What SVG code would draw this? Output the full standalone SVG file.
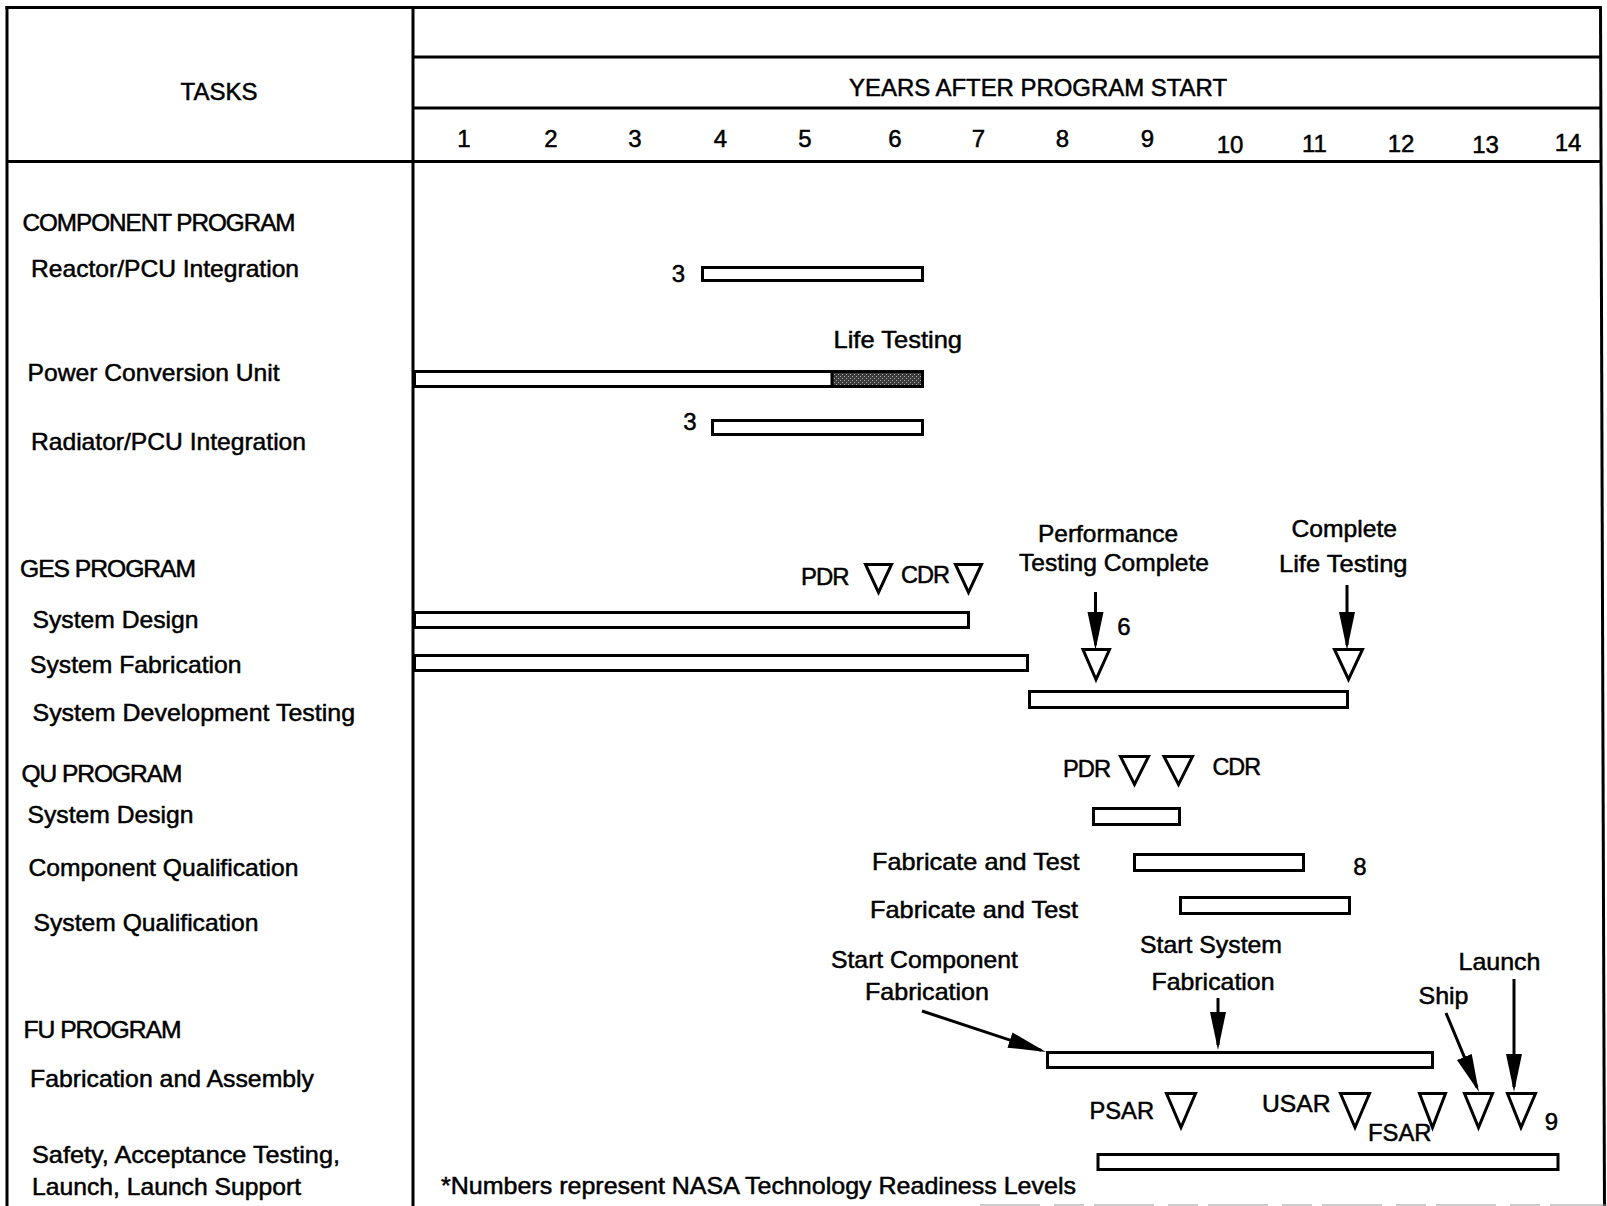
<svg xmlns="http://www.w3.org/2000/svg" width="1607" height="1206" viewBox="0 0 1607 1206">
<style>
text{font-family:"Liberation Sans",Arial,Helvetica,sans-serif;font-size:24px;fill:#000;stroke:#000;stroke-width:0.5}
.hd{letter-spacing:-1px}
.ln{stroke:#000;stroke-width:3;fill:none}
.bar{fill:#fff;stroke:#000;stroke-width:3}
.tri{fill:#fff;stroke:#000;stroke-width:3;stroke-linejoin:miter}
.arr{stroke:#000;stroke-width:3;fill:none;marker-end:url(#ah)}
.mid{text-anchor:middle}
</style>
<defs>
<marker id="ah" markerUnits="userSpaceOnUse" markerWidth="38" markerHeight="18" refX="33" refY="9" orient="auto">
<path d="M0,1 L38,9 L0,17 z" fill="#000"/>
</marker>
<pattern id="hatch" width="4" height="4" patternUnits="userSpaceOnUse">
<rect width="4" height="4" fill="#3c3c3c"/>
<rect x="0" y="0" width="1" height="1" fill="#b0b0b0"/>
<rect x="2" y="2" width="1" height="1" fill="#b0b0b0"/>
</pattern>
</defs>

<g id="frame">
<line class="ln" x1="5.5" y1="7.5" x2="1601" y2="7.5"/>
<line class="ln" x1="7" y1="6" x2="7" y2="1206"/>
<line class="ln" x1="1600.5" y1="6" x2="1604.5" y2="1206"/>
<line class="ln" x1="413" y1="6" x2="413" y2="1206"/>
<line class="ln" x1="413" y1="57" x2="1601" y2="57"/>
<line class="ln" x1="413" y1="108" x2="1602" y2="108"/>
<line class="ln" x1="6" y1="161.5" x2="1602" y2="161.5"/>
<line x1="980" y1="1205" x2="1607" y2="1205" stroke="#999" stroke-width="1" stroke-dasharray="60 14 30 10"/>
</g>

<g id="header">
<text x="219" y="100" class="mid">TASKS</text>
<text x="849" y="96" textLength="378" lengthAdjust="spacingAndGlyphs">YEARS AFTER PROGRAM START</text>
<text x="464" y="146.5" class="mid">1</text>
<text x="551" y="146.5" class="mid">2</text>
<text x="635" y="146.5" class="mid">3</text>
<text x="720.5" y="146.5" class="mid">4</text>
<text x="805" y="146.5" class="mid">5</text>
<text x="895" y="146.5" class="mid">6</text>
<text x="978.5" y="146.5" class="mid">7</text>
<text x="1062.5" y="146.5" class="mid">8</text>
<text x="1147.5" y="146.5" class="mid">9</text>
<text x="1230" y="153" class="mid">10</text>
<text x="1314.5" y="152" class="mid">11</text>
<text x="1401" y="152" class="mid">12</text>
<text x="1485.5" y="153" class="mid">13</text>
<text x="1568" y="151" class="mid">14</text>
</g>

<g id="task-labels">
<text x="22.5" y="231" class="hd" textLength="272" lengthAdjust="spacingAndGlyphs">COMPONENT PROGRAM</text>
<text x="31" y="277" textLength="268" lengthAdjust="spacingAndGlyphs">Reactor/PCU Integration</text>
<text x="27.5" y="380.5" textLength="252" lengthAdjust="spacingAndGlyphs">Power Conversion Unit</text>
<text x="31" y="450" textLength="275" lengthAdjust="spacingAndGlyphs">Radiator/PCU Integration</text>
<text x="20" y="577" class="hd" textLength="175" lengthAdjust="spacingAndGlyphs">GES PROGRAM</text>
<text x="32.5" y="628" textLength="166" lengthAdjust="spacingAndGlyphs">System Design</text>
<text x="30" y="673" textLength="211.5" lengthAdjust="spacingAndGlyphs">System Fabrication</text>
<text x="32.5" y="721" textLength="322.5" lengthAdjust="spacingAndGlyphs">System Development Testing</text>
<text x="21.5" y="782" class="hd" textLength="160" lengthAdjust="spacingAndGlyphs">QU PROGRAM</text>
<text x="27.5" y="823" textLength="166" lengthAdjust="spacingAndGlyphs">System Design</text>
<text x="28.5" y="876" textLength="270" lengthAdjust="spacingAndGlyphs">Component Qualification</text>
<text x="33.5" y="931" textLength="225" lengthAdjust="spacingAndGlyphs">System Qualification</text>
<text x="23.5" y="1038" class="hd" textLength="157" lengthAdjust="spacingAndGlyphs">FU PROGRAM</text>
<text x="30" y="1086.5" textLength="284" lengthAdjust="spacingAndGlyphs">Fabrication and Assembly</text>
<text x="32" y="1163" textLength="308" lengthAdjust="spacingAndGlyphs">Safety, Acceptance Testing,</text>
<text x="32" y="1195" textLength="269" lengthAdjust="spacingAndGlyphs">Launch, Launch Support</text>
</g>

<g id="component-program">
<text x="678.5" y="281.5" class="mid">3</text>
<rect class="bar" x="702.5" y="267.5" width="220" height="13"/>
<text x="833.5" y="348" textLength="128.5" lengthAdjust="spacingAndGlyphs">Life Testing</text>
<rect class="bar" x="414.5" y="371.5" width="508" height="15"/>
<rect x="832" y="371.5" width="90.5" height="15" fill="url(#hatch)" stroke="#000" stroke-width="3"/>
<text x="690" y="430" class="mid">3</text>
<rect class="bar" x="712.5" y="420.5" width="210" height="14"/>
</g>

<g id="ges-program">
<text x="801" y="585" class="hd" textLength="47.5" lengthAdjust="spacingAndGlyphs">PDR</text>
<polygon class="tri" points="865.5,564.5 891.5,564.5 878.5,592.5"/>
<text x="901" y="583" class="hd" textLength="48" lengthAdjust="spacingAndGlyphs">CDR</text>
<polygon class="tri" points="955.5,564.5 981.5,564.5 968.5,592.5"/>
<rect class="bar" x="414.5" y="612.5" width="554" height="15"/>
<rect class="bar" x="414.5" y="655.5" width="613" height="15"/>
<text x="1038" y="542" textLength="140" lengthAdjust="spacingAndGlyphs">Performance</text>
<text x="1019" y="571" textLength="190" lengthAdjust="spacingAndGlyphs">Testing Complete</text>
<text x="1124" y="635" class="mid">6</text>
<polygon class="tri" points="1083,649.5 1109.5,649.5 1096,679.5"/>
<text x="1291.5" y="537" textLength="105.5" lengthAdjust="spacingAndGlyphs">Complete</text>
<text x="1279" y="571.5" textLength="128.5" lengthAdjust="spacingAndGlyphs">Life Testing</text>
<polygon class="tri" points="1334.5,649.5 1362.5,649.5 1348.5,679.5"/>
<rect class="bar" x="1029.5" y="691.5" width="318" height="16"/>
</g>

<g id="qu-program">
<text x="1063" y="777" class="hd" textLength="47" lengthAdjust="spacingAndGlyphs">PDR</text>
<polygon class="tri" points="1120.5,756.5 1148.5,756.5 1134.5,784.5"/>
<polygon class="tri" points="1164,756.5 1192.5,756.5 1178.5,784.5"/>
<text x="1212.5" y="774.5" class="hd" textLength="47.5" lengthAdjust="spacingAndGlyphs">CDR</text>
<rect class="bar" x="1093.5" y="808.5" width="86" height="16"/>
<text x="872" y="869.5" textLength="207.5" lengthAdjust="spacingAndGlyphs">Fabricate and Test</text>
<rect class="bar" x="1134.5" y="854.5" width="169" height="16"/>
<text x="1360" y="875" class="mid">8</text>
<text x="870" y="917.5" textLength="208" lengthAdjust="spacingAndGlyphs">Fabricate and Test</text>
<rect class="bar" x="1180.5" y="897.5" width="169" height="16"/>
</g>

<g id="fu-program">
<text x="831" y="968" textLength="187" lengthAdjust="spacingAndGlyphs">Start Component</text>
<text x="865" y="999.5" textLength="124" lengthAdjust="spacingAndGlyphs">Fabrication</text>
<text x="1140" y="953" textLength="142" lengthAdjust="spacingAndGlyphs">Start System</text>
<text x="1151.5" y="990" textLength="123" lengthAdjust="spacingAndGlyphs">Fabrication</text>
<text x="1418.5" y="1003.5" textLength="50" lengthAdjust="spacingAndGlyphs">Ship</text>
<text x="1458.5" y="970" textLength="82" lengthAdjust="spacingAndGlyphs">Launch</text>
<rect class="bar" x="1047.5" y="1052.5" width="385" height="15"/>
<text x="1089.5" y="1119" textLength="64.5" lengthAdjust="spacingAndGlyphs">PSAR</text>
<polygon class="tri" points="1166.5,1093.5 1195.5,1093.5 1181,1127.5"/>
<text x="1262" y="1112" textLength="68.5" lengthAdjust="spacingAndGlyphs">USAR</text>
<polygon class="tri" points="1340.5,1093.5 1369.5,1093.5 1355,1127.5"/>
<text x="1368" y="1141" textLength="63.5" lengthAdjust="spacingAndGlyphs">FSAR</text>
<polygon class="tri" points="1419.5,1093.5 1445.5,1093.5 1432.5,1127.5"/>
<polygon class="tri" points="1464.5,1093.5 1492.5,1093.5 1478.5,1127.5"/>
<polygon class="tri" points="1507.5,1093.5 1535.5,1093.5 1521,1127.5"/>
<text x="1551.5" y="1130" class="mid" font-size="22">9</text>
<rect class="bar" x="1098" y="1154.5" width="460" height="15"/>
<text x="441" y="1194" textLength="635" lengthAdjust="spacingAndGlyphs">*Numbers represent NASA Technology Readiness Levels</text>
</g>

<g id="connectors">
<line class="arr" x1="1095.5" y1="592" x2="1095.5" y2="645"/>
<line class="arr" x1="1347" y1="585" x2="1347" y2="645"/>
<line class="arr" x1="922" y1="1011" x2="1041.3" y2="1050.4"/>
<line class="arr" x1="1218" y1="998" x2="1218" y2="1045"/>
<line class="arr" x1="1446" y1="1013" x2="1477" y2="1087.4"/>
<line class="arr" x1="1514" y1="979" x2="1514" y2="1087"/>
</g>
</svg>
